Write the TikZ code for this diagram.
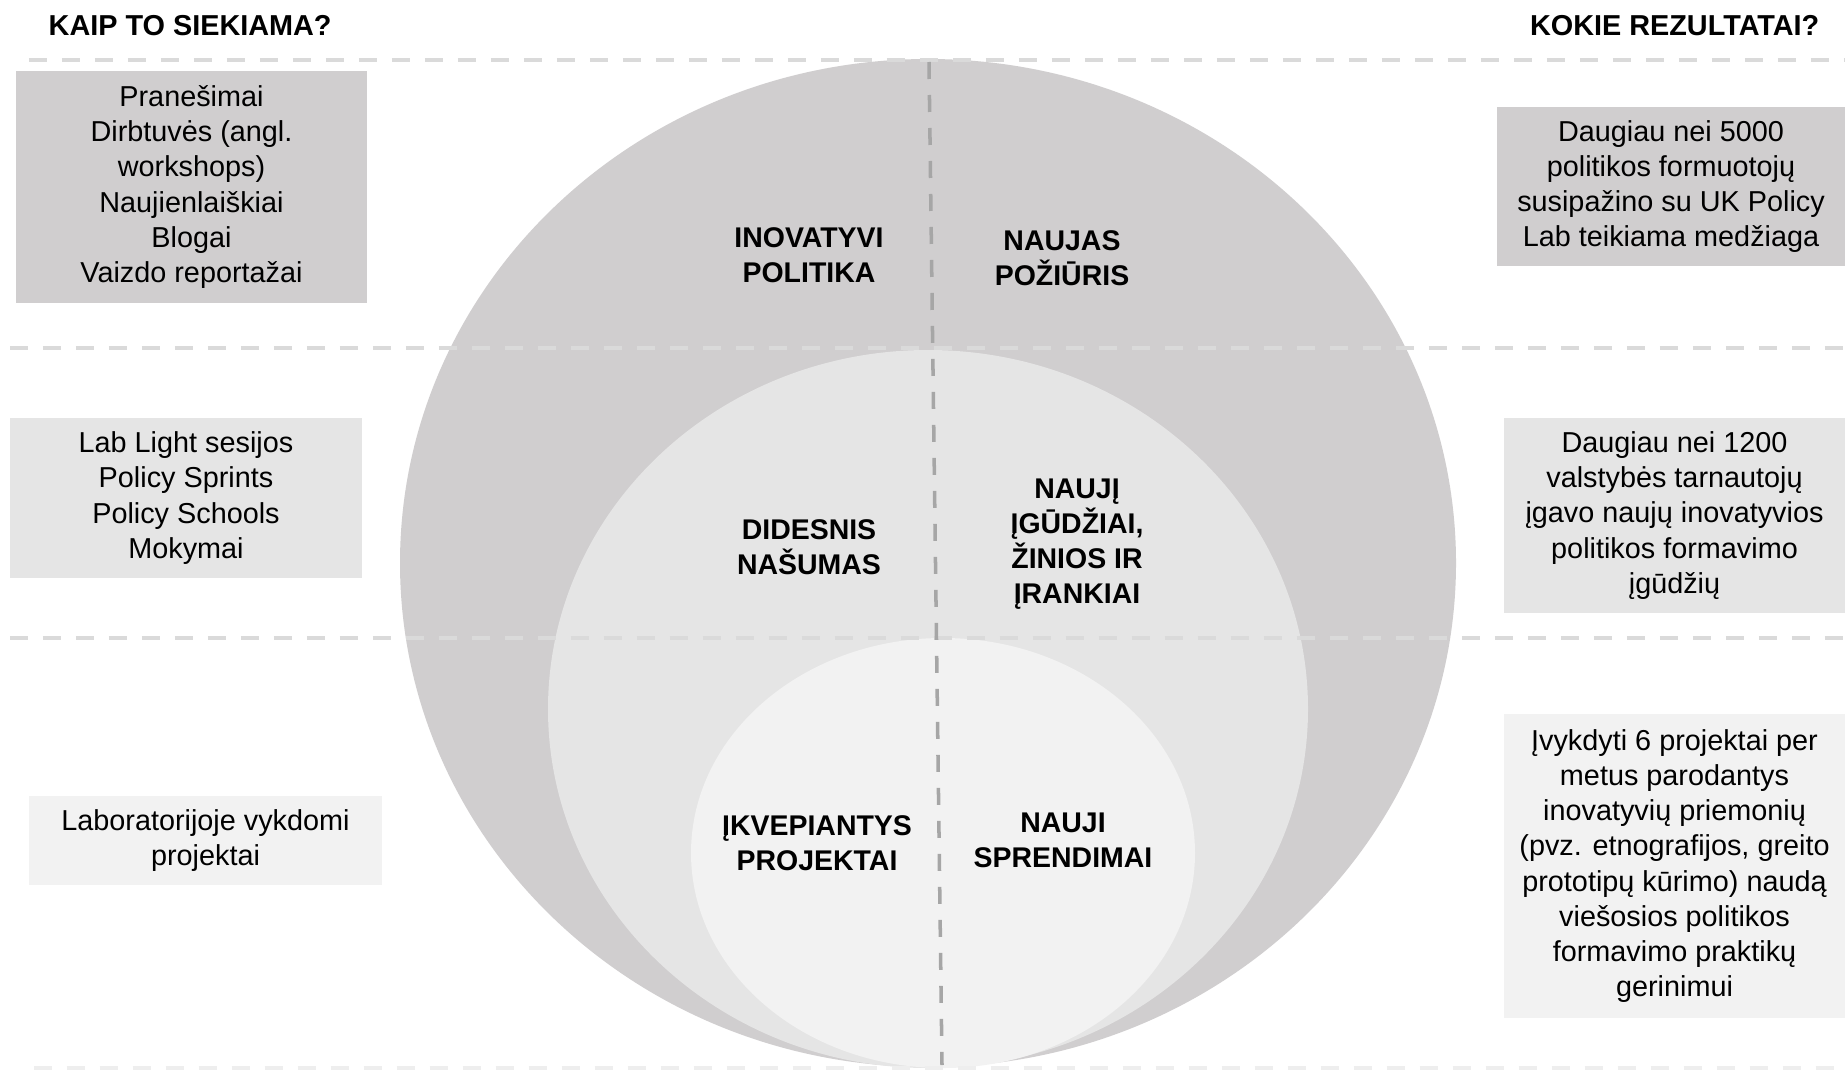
\documentclass[tikz,border=0pt]{standalone}
\usepackage{fontspec}
\setmainfont{Liberation Sans}
\usepackage{tikz}
\usetikzlibrary{positioning}
\definecolor{ringouter}{RGB}{208,206,207}
\definecolor{ringmid}{RGB}{229,229,229}
\definecolor{ringinner}{RGB}{242,242,242}
\definecolor{rowgray}{RGB}{218,218,218}
\definecolor{rowpale}{RGB}{238,238,238}
\definecolor{axisgray}{RGB}{166,166,166}
\tikzset{
  ringlabel/.style={align=center, inner sep=0pt,
    font=\fontsize{8.1}{9.9}\selectfont\bfseries},
  infobox/.style={rectangle, align=center, inner sep=0pt,
    font=\fontsize{8.2}{10}\selectfont},
  heading/.style={inner sep=0pt, font=\fontsize{8.2}{10}\selectfont\bfseries},
  rowline/.style={rowgray, line width=1.15pt, dash pattern=on 0.18cm off 0.15cm},
  midline/.style={axisgray, line width=1pt, dash pattern=on 0.17cm off 0.16cm}
}

\begin{document}
\begin{tikzpicture}
  \useasboundingbox (0,0) rectangle (18.45,10.70);
  \fill[white] (0,0) rectangle (18.45,10.70);
  % Rings
  \fill[ringouter] (9.28,5.07) ellipse [x radius=5.28, y radius=5.04];
  \fill[ringmid] (9.28,3.61) ellipse [x radius=3.80, y radius=3.59];
  \fill[ringinner] (9.43,2.17) ellipse [x radius=2.52, y radius=2.15];
  % Row separators
  \draw[rowline] (0.29,10.10) -- (18.45,10.10);
  \draw[rowline] (0.10,7.22) -- (18.45,7.22);
  \draw[rowline] (0.10,4.32) -- (18.45,4.32);
  \draw[rowline, rowpale] (0.34,0.02) -- (18.45,0.02);
  % Middle axis
  \coordinate (axtop) at (9.29,10.08);
  \coordinate (axbot) at (9.42,0.05);
  \draw[midline] (axtop) -- (axbot);
  % Headings
  \node[heading, anchor=base west] (howhead) at (0.48,10.34) {KAIP TO SIEKIAMA?};
  \node[heading, anchor=base east] (reshead) at (18.20,10.34) {KOKIE REZULTATAI?};
  % Ring labels
  \node[ringlabel] (innpol) at (8.09,8.15) {INOVATYVI\\POLITIKA};
  \node[ringlabel] (newview) at (10.62,8.12) {NAUJAS\\POŽIŪRIS};
  \node[ringlabel] (effic) at (8.09,5.23) {DIDESNIS\\NAŠUMAS};
  \node[ringlabel] (skills) at (10.77,5.26) {NAUJĮ\\ĮGŪDŽIAI,\\ŽINIOS IR\\ĮRANKIAI};
  \node[ringlabel] (inspire) at (8.17,2.27) {ĮKVEPIANTYS\\PROJEKTAI};
  \node[ringlabel] (solut) at (10.63,2.30) {NAUJI\\SPRENDIMAI};
  % Left boxes
  \node[infobox, fill=ringouter, minimum width=3.51cm, minimum height=2.32cm]
    (how1) at (1.915,8.83) {Pranešimai\\Dirbtuvės (angl.\\workshops)\\Naujienlaiškiai\\Blogai\\Vaizdo reportažai};
  \node[infobox, fill=ringmid, minimum width=3.52cm, minimum height=1.60cm]
    (how2) at (1.86,5.72) {Lab Light sesijos\\Policy Sprints\\Policy Schools\\Mokymai};
  \node[infobox, fill=ringinner, minimum width=3.53cm, minimum height=0.89cm]
    (how3) at (2.055,2.295) {Laboratorijoje vykdomi\\projektai};
  % Right boxes
  \node[infobox, fill=ringouter, minimum width=3.48cm, minimum height=1.59cm]
    (res1) at (16.71,8.835) {Daugiau nei 5000\\politikos formuotojų\\susipažino su UK Policy\\Lab teikiama medžiaga};
  \node[infobox, fill=ringmid, minimum width=3.41cm, minimum height=1.95cm]
    (res2) at (16.745,5.545) {Daugiau nei 1200\\valstybės tarnautojų\\įgavo naujų inovatyvios\\politikos formavimo\\įgūdžių};
  \node[infobox, fill=ringinner, minimum width=3.41cm, minimum height=3.04cm]
    (res3) at (16.745,2.04) {Įvykdyti 6 projektai per\\metus parodantys\\inovatyvių priemonių\\(pvz. etnografijos, greito\\prototipų kūrimo) naudą\\viešosios politikos\\formavimo praktikų\\gerinimui};
\end{tikzpicture}
\end{document}
